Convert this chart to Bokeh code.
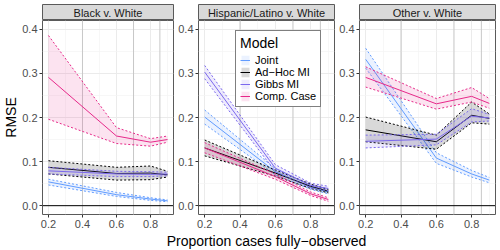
from bokeh.plotting import figure
from bokeh.layouts import row, column
from bokeh.models import Range1d, FixedTicker, Legend, LegendItem, Span, PrintfTickFormatter
from bokeh.core.properties import value
from bokeh.embed import file_html
from bokeh.resources import INLINE

FONT = "Liberation Sans"

# ---------------- data ----------------
x_prop = [0.2, 0.6, 0.8, 0.9]
panel_titles = ["Black v. White", "Hispanic/Latino v. White", "Other v. White"]
model_names = ["Joint", "Ad\u2212Hoc MI", "Gibbs MI", "Comp. Case"]
model_colors = ["#619CFF", "#000000", "#7B68EE", "#E7298A"]
vline_x = [0.4, 0.7, 0.855]
x_ticks = [0.2, 0.4, 0.6, 0.8]
y_ticks = [0.0, 0.1, 0.2, 0.3, 0.4]
x_title = "Proportion cases fully\u2212observed"
y_title = "RMSE"

# Black v. White
bw_joint_mid = [0.054, 0.025, 0.015, 0.011]
bw_joint_lo = [0.047, 0.021, 0.012, 0.009]
bw_joint_hi = [0.060, 0.030, 0.018, 0.013]
bw_adhoc_mid = [0.087, 0.073, 0.074, 0.070]
bw_adhoc_lo = [0.072, 0.058, 0.059, 0.065]
bw_adhoc_hi = [0.102, 0.087, 0.090, 0.078]
bw_gibbs_mid = [0.079, 0.072, 0.071, 0.072]
bw_gibbs_lo = [0.072, 0.066, 0.066, 0.068]
bw_gibbs_hi = [0.087, 0.078, 0.077, 0.076]
bw_comp_mid = [0.291, 0.158, 0.144, 0.150]
bw_comp_lo = [0.196, 0.141, 0.135, 0.144]
bw_comp_hi = [0.386, 0.177, 0.152, 0.158]

# Hispanic/Latino v. White
hw_joint_mid = [0.201, 0.077, 0.042, 0.031]
hw_joint_lo = [0.185, 0.070, 0.037, 0.027]
hw_joint_hi = [0.217, 0.084, 0.047, 0.035]
hw_adhoc_mid = [0.131, 0.074, 0.044, 0.033]
hw_adhoc_lo = [0.113, 0.067, 0.039, 0.029]
hw_adhoc_hi = [0.149, 0.081, 0.049, 0.037]
hw_gibbs_mid = [0.303, 0.085, 0.046, 0.039]
hw_gibbs_lo = [0.288, 0.077, 0.040, 0.034]
hw_gibbs_hi = [0.318, 0.093, 0.051, 0.044]
hw_comp_mid = [0.131, 0.066, 0.027, 0.014]
hw_comp_lo = [0.120, 0.060, 0.023, 0.010]
hw_comp_hi = [0.143, 0.072, 0.031, 0.018]

# Other v. White
ow_joint_mid = [0.332, 0.108, 0.072, 0.058]
ow_joint_lo = [0.312, 0.096, 0.065, 0.052]
ow_joint_hi = [0.357, 0.120, 0.080, 0.064]
ow_adhoc_mid = [0.172, 0.145, 0.205, 0.198]
ow_adhoc_lo = [0.145, 0.128, 0.188, 0.185]
ow_adhoc_hi = [0.201, 0.160, 0.235, 0.208]
ow_gibbs_mid = [0.146, 0.151, 0.203, 0.199]
ow_gibbs_lo = [0.131, 0.138, 0.190, 0.192]
ow_gibbs_hi = [0.160, 0.162, 0.220, 0.207]
ow_comp_mid = [0.291, 0.231, 0.248, 0.232]
ow_comp_lo = [0.269, 0.219, 0.235, 0.221]
ow_comp_hi = [0.315, 0.243, 0.268, 0.243]

panel_series = [
    [(bw_joint_lo, bw_joint_mid, bw_joint_hi), (bw_adhoc_lo, bw_adhoc_mid, bw_adhoc_hi),
     (bw_gibbs_lo, bw_gibbs_mid, bw_gibbs_hi), (bw_comp_lo, bw_comp_mid, bw_comp_hi)],
    [(hw_joint_lo, hw_joint_mid, hw_joint_hi), (hw_adhoc_lo, hw_adhoc_mid, hw_adhoc_hi),
     (hw_gibbs_lo, hw_gibbs_mid, hw_gibbs_hi), (hw_comp_lo, hw_comp_mid, hw_comp_hi)],
    [(ow_joint_lo, ow_joint_mid, ow_joint_hi), (ow_adhoc_lo, ow_adhoc_mid, ow_adhoc_hi),
     (ow_gibbs_lo, ow_gibbs_mid, ow_gibbs_hi), (ow_comp_lo, ow_comp_mid, ow_comp_hi)],
]

# ---------------- layout constants ----------------
FRAME_W = 136
FRAME_H = 194
BOTTOM = 17
STRIP_TOP = 4
STRIP_H = 16
TITLE_H = 19
left_borders = [37, 23, 23]
right_borders = [2, 2, 5]
BORDER_COL = "#5A5A5A"


def make_strip(label, lb, rb):
    s = figure(width=lb + FRAME_W + rb, height=STRIP_TOP + STRIP_H, x_range=Range1d(0, 1), y_range=Range1d(0, 1),
               output_backend="svg", toolbar_location=None, title=None,
               x_axis_type=None, y_axis_type=None,
               min_border_left=lb, min_border_right=rb, min_border_top=STRIP_TOP, min_border_bottom=0)
    s.background_fill_color = "#D9D9D9"
    s.outline_line_color = BORDER_COL
    s.outline_line_width = 1
    s.text(x=[0.5], y=[0.45], text=[label], text_align="center", text_baseline="middle",
           text_font=value(FONT), text_font_size="11px", text_color="#1A1A1A")
    return s


def make_panel(i):
    lb, rb = left_borders[i], right_borders[i]
    p = figure(width=lb + FRAME_W + rb, height=FRAME_H + BOTTOM,
               x_range=Range1d(0.165, 0.935), y_range=Range1d(-0.02, 0.42),
               output_backend="svg", toolbar_location=None, title=None,
               min_border_left=lb, min_border_right=rb, min_border_top=0, min_border_bottom=BOTTOM)
    p.outline_line_color = BORDER_COL
    p.outline_line_width = 1
    p.background_fill_color = "white"

    p.xaxis.ticker = FixedTicker(ticks=x_ticks, minor_ticks=[0.3, 0.5, 0.7, 0.9])
    p.yaxis.ticker = FixedTicker(ticks=y_ticks, minor_ticks=[0.05, 0.15, 0.25, 0.35])
    p.xaxis.formatter = PrintfTickFormatter(format="%.1f")
    p.yaxis.formatter = PrintfTickFormatter(format="%.1f")
    for ax in (p.xaxis[0], p.yaxis[0]):
        ax.axis_line_color = None
        ax.major_tick_line_color = "#333333"
        ax.major_tick_out = 3
        ax.major_tick_in = 0
        ax.minor_tick_line_color = None
        ax.major_label_text_font = FONT
        ax.major_label_text_font_size = "11px"
        ax.major_label_text_color = "#4D4D4D"
        ax.major_label_standoff = 1
        ax.axis_label_text_font = FONT
        ax.axis_label_text_font_size = "14px"
        ax.axis_label_text_font_style = "normal"
        ax.axis_label_text_color = "black"
        ax.axis_label_standoff = 0
    for g in (p.xgrid[0], p.ygrid[0]):
        g.grid_line_color = "#EBEBEB"
        g.grid_line_width = 1
        g.minor_grid_line_color = "#F3F3F3"
        g.minor_grid_line_width = 0.7

    if i == 0:
        p.yaxis.axis_label = y_title

    for vx in vline_x:
        p.add_layout(Span(location=vx, dimension="height", line_color="#C8C8C8", line_width=1,
                          level="underlay"))
    p.add_layout(Span(location=0, dimension="width", line_color="black", line_width=1, level="underlay"))

    items = []
    for (lo, mid, hi), name, col in zip(panel_series[i], model_names, model_colors):
        alpha = 0.15 if col == "#000000" else 0.13
        ra = p.varea(x=x_prop, y1=lo, y2=hi, fill_color=col, fill_alpha=alpha)
        p.line(x_prop, lo, line_color=col, line_width=1, line_dash="2 2")
        p.line(x_prop, hi, line_color=col, line_width=1, line_dash="2 2")
        rl = p.line(x_prop, mid, line_color=col, line_width=1)
        items.append(LegendItem(label=name, renderers=[ra, rl]))

    if i == 1:
        leg = Legend(items=items, location=(37, 107), title="Model",
                     title_text_font=FONT, title_text_font_size="14px", title_text_font_style="normal",
                     title_text_color="black", title_standoff=3,
                     label_text_font=FONT, label_text_font_size="11px", label_text_color="black",
                     glyph_width=10, glyph_height=12, label_height=12, label_standoff=5,
                     spacing=0, padding=4, margin=0,
                     border_line_color="black", border_line_width=1,
                     background_fill_color="white", background_fill_alpha=1)
        p.add_layout(leg)
    return p


cols = []
for i in range(3):
    cols.append(column(make_strip(panel_titles[i], left_borders[i], right_borders[i]), make_panel(i)))

total_w = sum(left_borders) + sum(right_borders) + 3 * FRAME_W
title_fig = figure(width=total_w, height=TITLE_H, x_range=Range1d(0, total_w), y_range=Range1d(0, TITLE_H),
                   output_backend="svg", toolbar_location=None, title=None,
                   x_axis_type=None, y_axis_type=None,
                   min_border_left=0, min_border_right=0, min_border_top=0, min_border_bottom=0)
title_fig.outline_line_color = None
title_fig.grid.visible = False
title_center = left_borders[0] + (total_w - left_borders[0] - right_borders[2]) / 2
title_fig.text(x=[title_center], y=[TITLE_H / 2], text=[x_title], text_align="center", text_baseline="middle",
               text_font=value(FONT), text_font_size="14px", text_color="black")

layout = column(row(*cols), title_fig)

open("out.html", "w").write(file_html(layout, INLINE))
